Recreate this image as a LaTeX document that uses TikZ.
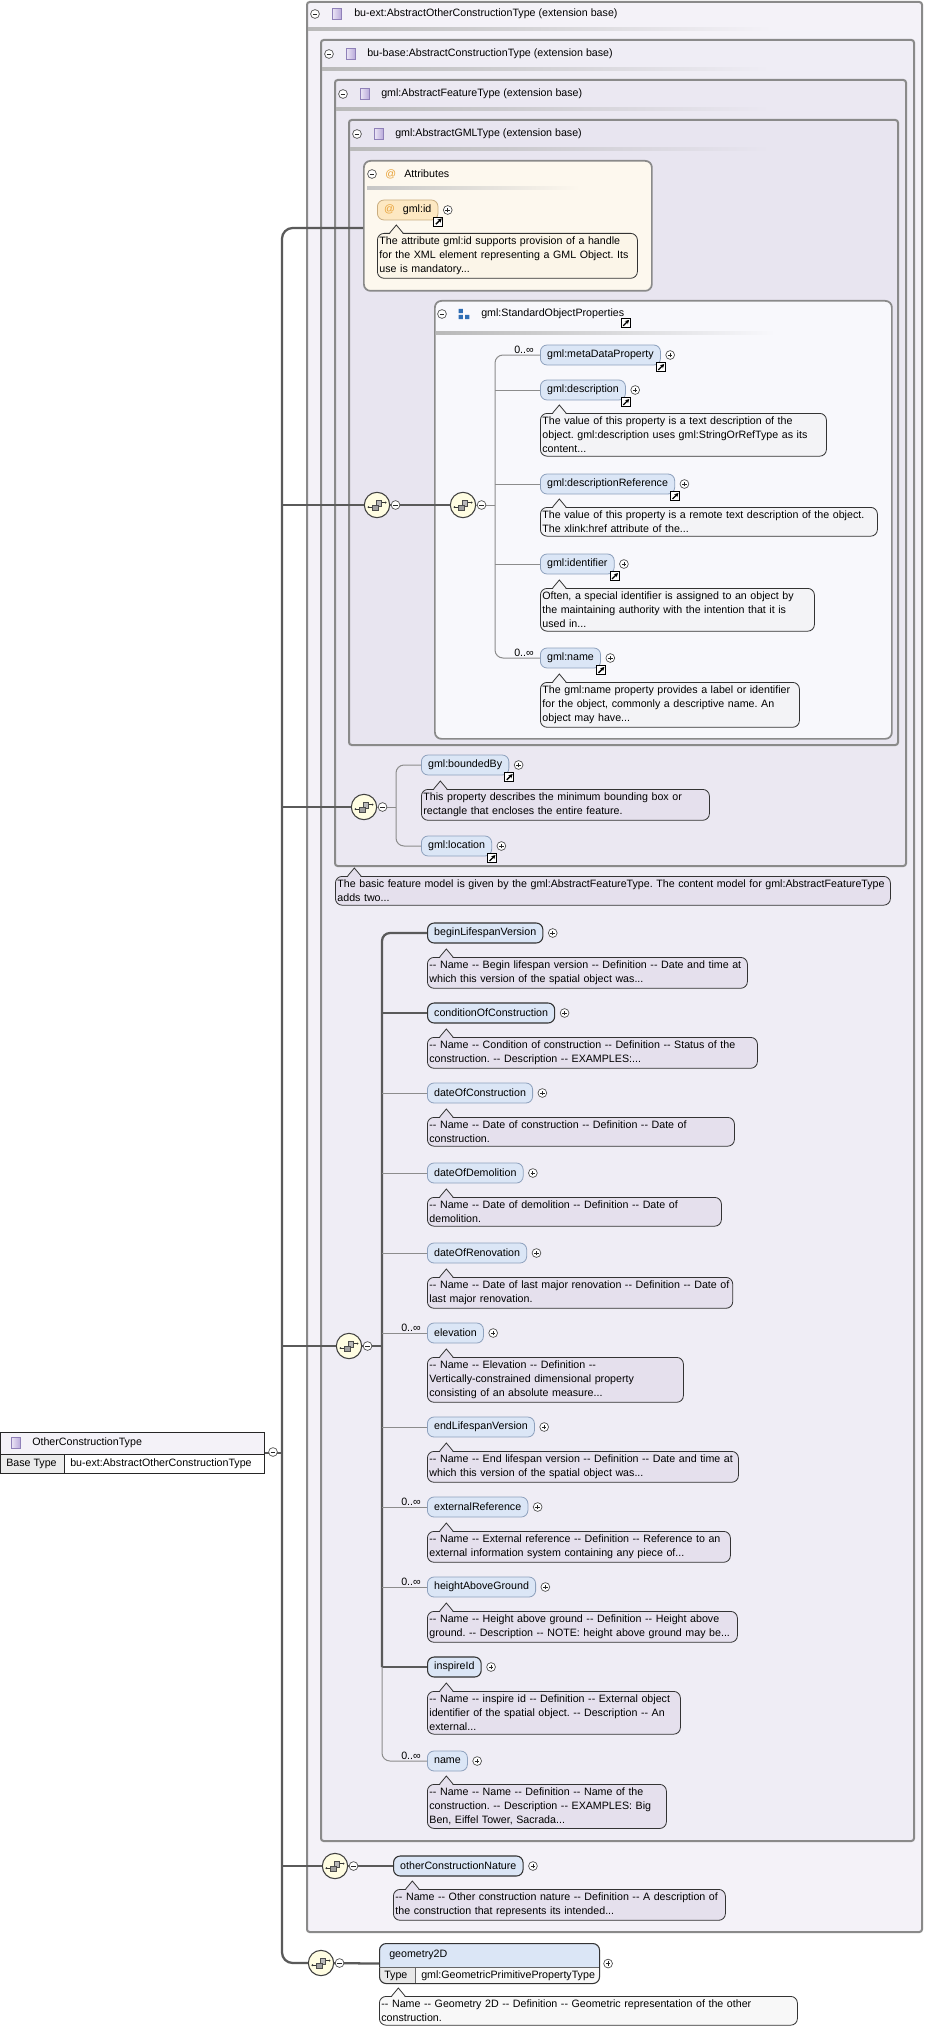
\documentclass[tikz,border=0pt]{standalone}
\usepackage{fontspec}
\setmainfont{Liberation Sans}[Ligatures=TeXOff]
\usetikzlibrary{arrows.meta,positioning}
\frenchspacing
\definecolor{bgone}{HTML}{F4F2F8}
\definecolor{bgtwo}{HTML}{EFEDF5}
\definecolor{bgthree}{HTML}{EBE8F2}
\definecolor{bgfour}{HTML}{E8E5F0}
\definecolor{bgattr}{HTML}{FDF8EE}
\definecolor{bgsop}{HTML}{F8F8FC}
\definecolor{boxgray}{HTML}{8A8A8A}
\definecolor{elemfill}{HTML}{DBE6F6}
\definecolor{elemline}{HTML}{8EA1BD}
\definecolor{descfill}{HTML}{E5E0ED}
\definecolor{descsop}{HTML}{F3F3F6}
\definecolor{descattr}{HTML}{FBF5E8}
\definecolor{descwhite}{HTML}{F8F8F8}
\definecolor{linedark}{HTML}{5A5A5A}
\definecolor{linethin}{HTML}{8C8C8C}
\definecolor{compfill}{HTML}{FFFDE2}
\definecolor{attrfill}{HTML}{FDE8C2}
\definecolor{attrline}{HTML}{C9AD80}
\definecolor{atcolor}{HTML}{E8A33A}
\definecolor{sopblue}{HTML}{2E6DB4}
\definecolor{purpleicon}{HTML}{B5A5D8}
\definecolor{purplelight}{HTML}{ECE6F6}
\definecolor{purpleline}{HTML}{8F80B8}
\newcommand{\xfont}{\fontsize{8pt}{10.5pt}\selectfont}
% callout tip on top of a description box
\newcommand{\tipon}[2]{%
	\fill[#2] ([xshift=9.5pt,yshift=-0.9pt]#1.north west) -- ++(5pt,6.9pt) -- ++(5pt,-6.9pt) -- cycle;
	\draw[black!80, line width=0.6pt] ([xshift=9.5pt]#1.north west) -- ++(5pt,6pt) -- ++(5pt,-6pt);}
\tikzset{%
	typebox/.style  = {draw=boxgray, line width=1.5pt, rounded corners=2pt},
	grpbox/.style   = {draw=boxgray, line width=1.3pt, rounded corners=5pt, anchor=north west, inner sep=0pt},
	header/.style   = {anchor=west, inner sep=0pt, font=\xfont},
	elem/.style     = {draw=elemline, fill=elemfill, line width=0.6pt, rounded corners=5pt, minimum height=15pt, inner xsep=5pt, inner ysep=0pt, anchor=west, font=\xfont},
	elemreq/.style  = {elem, draw=black!80, line width=0.8pt},
	attr/.style     = {elem, draw=attrline, fill=attrfill},
	desc/.style     = {draw=black!80, fill=descfill, line width=0.6pt, rounded corners=5pt, align=left, inner xsep=1.5pt, inner ysep=2.6pt, anchor=north west, font=\xfont},
	occurs/.style   = {anchor=south east, inner sep=0.5pt, font=\xfont},
	comp/.style     = {circle, draw=black!75, fill=compfill, line width=0.8pt, minimum size=19pt, inner sep=0pt},
	opt/.style      = {draw=linethin, line width=0.75pt},
	req/.style      = {draw=linedark, line width=1.7pt},
}
\tikzset{%
	minus/.pic   = {\draw[black!70, fill=white, line width=0.5pt] (0pt,0pt) circle (3.3pt);
	                \draw[black!85, line width=0.6pt] (-1.7pt,0pt) -- (1.7pt,0pt);},
	plus/.pic    = {\draw[black!70, fill=white, line width=0.5pt] (0pt,0pt) circle (3.3pt);
	                \draw[black!85, line width=0.6pt] (-1.7pt,0pt) -- (1.7pt,0pt) (0pt,-1.7pt) -- (0pt,1.7pt);},
	lnk/.pic     = {\draw[black, fill=white, line width=0.7pt] (-3.4pt,-3.4pt) rectangle (3.4pt,3.4pt);
	                \draw[black, line width=1pt, -{Stealth[length=3pt,width=3.2pt]}] (-1.9pt,-1.9pt) -- (2.5pt,2.5pt);},
	ctype/.pic   = {\draw[purpleline, line width=0.5pt, left color=purplelight, right color=purpleicon] (-3.6pt,-3.9pt) rectangle (3.6pt,3.9pt);},
	sopicon/.pic = {\fill[sopblue] (-4pt,0.6pt) rectangle (-0.8pt,3.8pt) (-4pt,-3.8pt) rectangle (-0.8pt,-0.6pt) (0.8pt,-3.8pt) rectangle (4pt,-0.6pt);},
	seqicon/.pic = {\draw[black!80, line width=0.45pt] (-6.4pt,-1.6pt) -- (-2pt,-1.6pt) (2pt,1.8pt) -- (6.4pt,1.8pt);
	                \fill[black!80] (-6.4pt,-1.6pt) circle (0.8pt) (6.4pt,1.8pt) circle (0.8pt);
	                \draw[black!70, fill=gray!55, line width=0.45pt] (-0.8pt,-0.6pt) rectangle (3.4pt,3.6pt);
	                \draw[black!70, fill=gray!75, line width=0.45pt] (-3.6pt,-4.2pt) rectangle (0.6pt,0pt);},
}

\begin{document}
\begin{tikzpicture}[x=0.75pt, y=-0.75pt]
	\useasboundingbox (0,0) rectangle (924,2033);
	\fill[white] (0,0) rectangle (924,2033);
	% nested extension boxes
	\draw[typebox, fill=bgone] (307,2) rectangle (922,1932);
	\shade[left color=gray!55, right color=bgone] (308,28) rectangle (772,30.5);
	\node[header] (hext) at (354,14) {bu-ext:AbstractOtherConstructionType (extension base)};
	\draw[typebox, fill=bgtwo] (321,40) rectangle (914,1841);
	\shade[left color=gray!55, right color=bgtwo] (322,68) rectangle (770,70.5);
	\node[header] (hbase) at (367,54) {bu-base:AbstractConstructionType (extension base)};
	\draw[typebox, fill=bgthree] (335,80) rectangle (906,866);
	\shade[left color=gray!55, right color=bgthree] (336,108) rectangle (770,110.5);
	\node[header] (hfeat) at (381,94) {gml:AbstractFeatureType (extension base)};
	\draw[typebox, fill=bgfour] (349,120) rectangle (898,745);
	\shade[left color=gray!55, right color=bgfour] (350,148) rectangle (770,150.5);
	\node[header] (hgml) at (395,134) {gml:AbstractGMLType (extension base)};
	% attributes
	\node[grpbox, fill=bgattr, minimum width=216pt, minimum height=97.5pt] (attrs) at (363,160) {};
	\shade[left color=gray!45, right color=bgattr] (367,187) rectangle (580,189.5);
	\node[header, text=atcolor] (hat) at (385,174) {@};
	\node[header] (hattr) at (404,174) {Attributes};
	\node[attr] (gmlid) at (377,210) {\textcolor{atcolor}{@}\hspace{6pt}gml:id};
	\node[desc, fill=descattr, text width=192pt] (gmlidd) at (377,233) {The attribute gml:id supports provision of a handle\\for the XML element representing a GML Object. Its\\use is mandatory...};
	% gml:StandardObjectProperties
	\node[grpbox, fill=bgsop, minimum width=342.75pt, minimum height=328.5pt] (sop) at (434,300) {};
	\shade[left color=gray!55, right color=bgsop] (436,332) rectangle (775,334.5);
	\node[header] (hsop) at (481,314) {gml:StandardObjectProperties};
	\node[comp] (seqa) at (377,505) {};
	\node[comp] (seqb) at (463,505) {};
	\coordinate (va) at (495,505);
	\node[elem] (md) at (540,355) {gml:metaDataProperty};
	\node[elem] (gd) at (540,390) {gml:description};
	\node[desc, fill=descsop, text width=211.5pt] (gdd) at (540,413) {The value of this property is a text description of the\\object. gml:description uses gml:StringOrRefType as its\\content...};
	\node[elem] (gdr) at (540,484) {gml:descriptionReference};
	\node[desc, fill=descsop, text width=249.75pt] (gdrd) at (540,507) {The value of this property is a remote text description of the object.\\The xlink:href attribute of the...};
	\node[elem] (gidf) at (540,564) {gml:identifier};
	\node[desc, fill=descsop, text width=202.5pt] (gidfd) at (540,588) {Often, a special identifier is assigned to an object by\\the maintaining authority with the intention that it is\\used in...};
	\node[elem] (gn) at (540,658) {gml:name};
	\node[desc, fill=descsop, text width=191.25pt] (gnd) at (540,682) {The gml:name property provides a label or identifier\\for the object, commonly a descriptive name. An\\object may have...};
	\node[occurs] at ([xshift=-4pt]md.west) {0..∞};
	\node[occurs] at ([xshift=-4pt]gn.west) {0..∞};
	% boundedBy / location
	\node[comp] (seqc) at (364,807) {};
	\coordinate (vb) at (396,807);
	\node[elem] (bb) at (421,765) {gml:boundedBy};
	\node[desc, text width=213pt] (bbd) at (421,789) {This property describes the minimum bounding box or\\rectangle that encloses the entire feature.};
	\node[elem] (loc) at (421,846) {gml:location};
	\node[desc, fill=descfill, text width=413.25pt] (fd) at (335,876) {The basic feature model is given by the gml:AbstractFeatureType. The content model for gml:AbstractFeatureType\\adds two...};
	% construction elements
	\node[comp] (seqe) at (349,1346) {};
	\coordinate (vc) at (382,1346);
	\node[elemreq] (blv) at (427,933) {beginLifespanVersion};
	\node[desc, text width=237pt] (blvd) at (427,957) {-- Name -- Begin lifespan version -- Definition -- Date and time at\\which this version of the spatial object was...};
	\node[elemreq] (cond) at (427,1013) {conditionOfConstruction};
	\node[desc, text width=244.5pt] (condd) at (427,1037) {-- Name -- Condition of construction -- Definition -- Status of the\\construction. -- Description -- EXAMPLES:...};
	\node[elem] (doc) at (427,1093) {dateOfConstruction};
	\node[desc, text width=227.25pt] (docd) at (427,1117) {-- Name -- Date of construction -- Definition -- Date of\\construction.};
	\node[elem] (dod) at (427,1173) {dateOfDemolition};
	\node[desc, text width=217.5pt] (dodd) at (427,1197) {-- Name -- Date of demolition -- Definition -- Date of\\demolition.};
	\node[elem] (dor) at (427,1253) {dateOfRenovation};
	\node[desc, text width=226pt] (dord) at (427,1277) {-- Name -- Date of last major renovation -- Definition -- Date of\\last major renovation.};
	\node[elem] (elv) at (427,1333) {elevation};
	\node[desc, text width=189pt] (elvd) at (427,1357) {-- Name -- Elevation -- Definition --\\Vertically-constrained dimensional property\\consisting of an absolute measure...};
	\node[elem] (elsv) at (427,1427) {endLifespanVersion};
	\node[desc, text width=230.25pt] (elsvd) at (427,1451) {-- Name -- End lifespan version -- Definition -- Date and time at\\which this version of the spatial object was...};
	\node[elem] (ext) at (427,1507) {externalReference};
	\node[desc, text width=224.25pt] (extd) at (427,1531) {-- Name -- External reference -- Definition -- Reference to an\\external information system containing any piece of...};
	\node[elem] (hag) at (427,1587) {heightAboveGround};
	\node[desc, text width=229.5pt] (hagd) at (427,1611) {-- Name -- Height above ground -- Definition -- Height above\\ground. -- Description -- NOTE: height above ground may be...};
	\node[elemreq] (ins) at (427,1667) {inspireId};
	\node[desc, text width=186.75pt] (insd) at (427,1691) {-- Name -- inspire id -- Definition -- External object\\identifier of the spatial object. -- Description -- An\\external...};
	\node[elem] (nm) at (427,1761) {name};
	\node[desc, text width=176.25pt] (nmd) at (427,1784) {-- Name -- Name -- Definition -- Name of the\\construction. -- Description -- EXAMPLES: Big\\Ben, Eiffel Tower, Sacrada...};
	\node[occurs] at ([xshift=-4pt]elv.west) {0..∞};
	\node[occurs] at ([xshift=-4pt]ext.west) {0..∞};
	\node[occurs] at ([xshift=-4pt]hag.west) {0..∞};
	\node[occurs] at ([xshift=-4pt]nm.west) {0..∞};
	% otherConstructionNature
	\node[comp] (seqf) at (335,1866) {};
	\node[elemreq] (ocn) at (393,1866) {otherConstructionNature};
	\node[desc, text width=246pt] (ocnd) at (393,1889) {-- Name -- Other construction nature -- Definition -- A description of\\the construction that represents its intended...};
	% geometry2D
	\node[comp] (seqg) at (321,1963) {};
	\begin{scope}
		\clip[rounded corners=5pt] (379,1943) rectangle (599,1983);
		\fill[elemfill] (379,1943) rectangle (599,1967);
		\fill[descwhite] (379,1967) rectangle (599,1983);
		\fill[gray!18] (379,1967) rectangle (415,1983);
	\end{scope}
	\node[draw=black!80, line width=0.8pt, rounded corners=5pt, minimum width=165pt, minimum height=30pt, inner sep=0pt, anchor=north west] (geo) at (379,1943) {};
	\draw[black!60, line width=0.5pt] (379,1967) -- (599,1967) (415,1967) -- (415,1983);
	\node[header] at (389,1955) {geometry2D};
	\node[header] at (384,1975.5) {Type};
	\node[header] at (421,1975.5) {gml:GeometricPrimitivePropertyType};
	\node[desc, fill=descwhite, text width=310.5pt] (geod) at (379,1996) {-- Name -- Geometry 2D -- Definition -- Geometric representation of the other\\construction.};
	% the type itself
	\node[draw=black!85, line width=0.7pt, minimum width=198pt, minimum height=30.75pt, inner sep=0pt, anchor=north west] (oct) at (0,1432) {};
	\fill[bgone] (0.5,1432.5) rectangle (263.5,1454);
	\fill[gray!15] (0.5,1454) rectangle (64,1472.5);
	\draw[black!85, line width=0.7pt] (0,1454) -- (264,1454) (64,1454) -- (64,1473);
	\node[header] at (32,1443) {OtherConstructionType};
	\node[header] at (6,1464) {Base Type};
	\node[header] at (70,1464) {bu-ext:AbstractOtherConstructionType};
	\coordinate (trunk) at (282,228);
	% connectors
	\draw[req, rounded corners=8pt] (attrs.west |- trunk) -| (trunk |- seqg) -- (seqg);
	\draw[req] (oct.east) -- (oct.east -| trunk);
	\draw[req] (trunk |- seqa) -- (seqa);
	\draw[req] (seqa) -- (seqb);
	\draw[opt] (seqb) -- (va);
	\draw[opt, rounded corners=6pt] (md.west) -| (va) |- (gn.west);
	\draw[opt] (va |- gd) -- (gd.west);
	\draw[opt] (va |- gdr) -- (gdr.west);
	\draw[opt] (va |- gidf) -- (gidf.west);
	\draw[req] (trunk |- seqc) -- (seqc);
	\draw[opt] (seqc) -- (vb);
	\draw[opt, rounded corners=6pt] (bb.west) -| (vb) |- (loc.west);
	\draw[req] (trunk |- seqe) -- (seqe);
	\draw[req] (seqe) -- (vc);
	\draw[req, rounded corners=6pt] (blv.west) -| (vc |- ins);
	\draw[req] (vc |- ins) -- (ins.west);
	\draw[req] (vc |- cond) -- (cond.west);
	\draw[opt, rounded corners=6pt] (vc |- ins) |- (nm.west);
	\draw[opt] (vc |- doc) -- (doc.west);
	\draw[opt] (vc |- dod) -- (dod.west);
	\draw[opt] (vc |- dor) -- (dor.west);
	\draw[opt] (vc |- elv) -- (elv.west);
	\draw[opt] (vc |- elsv) -- (elsv.west);
	\draw[opt] (vc |- ext) -- (ext.west);
	\draw[opt] (vc |- hag) -- (hag.west);
	\draw[req] (trunk |- seqf) -- (seqf);
	\draw[req] (seqf) -- (ocn.west);
	\draw[req] (seqg) -- (geo.west);
	% callout tips
	\tipon{gmlidd}{descattr}
	\tipon{gdd}{descsop}
	\tipon{gdrd}{descsop}
	\tipon{gidfd}{descsop}
	\tipon{gnd}{descsop}
	\tipon{bbd}{descfill}
	\tipon{fd}{descfill}
	\tipon{blvd}{descfill}
	\tipon{condd}{descfill}
	\tipon{docd}{descfill}
	\tipon{dodd}{descfill}
	\tipon{dord}{descfill}
	\tipon{elvd}{descfill}
	\tipon{elsvd}{descfill}
	\tipon{extd}{descfill}
	\tipon{hagd}{descfill}
	\tipon{insd}{descfill}
	\tipon{nmd}{descfill}
	\tipon{ocnd}{descfill}
	\tipon{geod}{descwhite}
	% icons
	\pic at (315,14) {minus};   \pic at (337,14) {ctype};
	\pic at (329,54) {minus};   \pic at (351,54) {ctype};
	\pic at (343,94) {minus};   \pic at (365,94) {ctype};
	\pic at (357,134) {minus};  \pic at (379,134) {ctype};
	\pic at (16,1443) {ctype};
	\pic at (273,1452) {minus};
	\pic at (372,174) {minus};
	\pic at (442,314) {minus};  \pic at (464,314) {sopicon};
	\pic at ([xshift=1pt,yshift=-3pt]hsop.south east) {lnk};
	\pic at (seqa) {seqicon};   \pic at ([xshift=4pt]seqa.east) {minus};
	\pic at (seqb) {seqicon};   \pic at ([xshift=4pt]seqb.east) {minus};
	\pic at (seqc) {seqicon};   \pic at ([xshift=4pt]seqc.east) {minus};
	\pic at (seqe) {seqicon};   \pic at ([xshift=4pt]seqe.east) {minus};
	\pic at (seqf) {seqicon};   \pic at ([xshift=4pt]seqf.east) {minus};
	\pic at (seqg) {seqicon};   \pic at ([xshift=4pt]seqg.east) {minus};
	\pic at ([xshift=7pt]gmlid.east) {plus};  \pic at ([yshift=-1pt]gmlid.south east) {lnk};
	\pic at ([xshift=7pt]md.east) {plus};     \pic at ([yshift=-1.5pt]md.south east) {lnk};
	\pic at ([xshift=7pt]gd.east) {plus};     \pic at ([yshift=-1.5pt]gd.south east) {lnk};
	\pic at ([xshift=7pt]gdr.east) {plus};    \pic at ([yshift=-1.5pt]gdr.south east) {lnk};
	\pic at ([xshift=7pt]gidf.east) {plus};   \pic at ([yshift=-1.5pt]gidf.south east) {lnk};
	\pic at ([xshift=7pt]gn.east) {plus};     \pic at ([yshift=-1.5pt]gn.south east) {lnk};
	\pic at ([xshift=7pt]bb.east) {plus};     \pic at ([yshift=-1.5pt]bb.south east) {lnk};
	\pic at ([xshift=7pt]loc.east) {plus};    \pic at ([yshift=-1.5pt]loc.south east) {lnk};
	\pic at ([xshift=7pt]blv.east) {plus};
	\pic at ([xshift=7pt]cond.east) {plus};
	\pic at ([xshift=7pt]doc.east) {plus};
	\pic at ([xshift=7pt]dod.east) {plus};
	\pic at ([xshift=7pt]dor.east) {plus};
	\pic at ([xshift=7pt]elv.east) {plus};
	\pic at ([xshift=7pt]elsv.east) {plus};
	\pic at ([xshift=7pt]ext.east) {plus};
	\pic at ([xshift=7pt]hag.east) {plus};
	\pic at ([xshift=7pt]ins.east) {plus};
	\pic at ([xshift=7pt]nm.east) {plus};
	\pic at ([xshift=7pt]ocn.east) {plus};
	\pic at ([xshift=6pt]geo.east) {plus};
\end{tikzpicture}
\end{document}
